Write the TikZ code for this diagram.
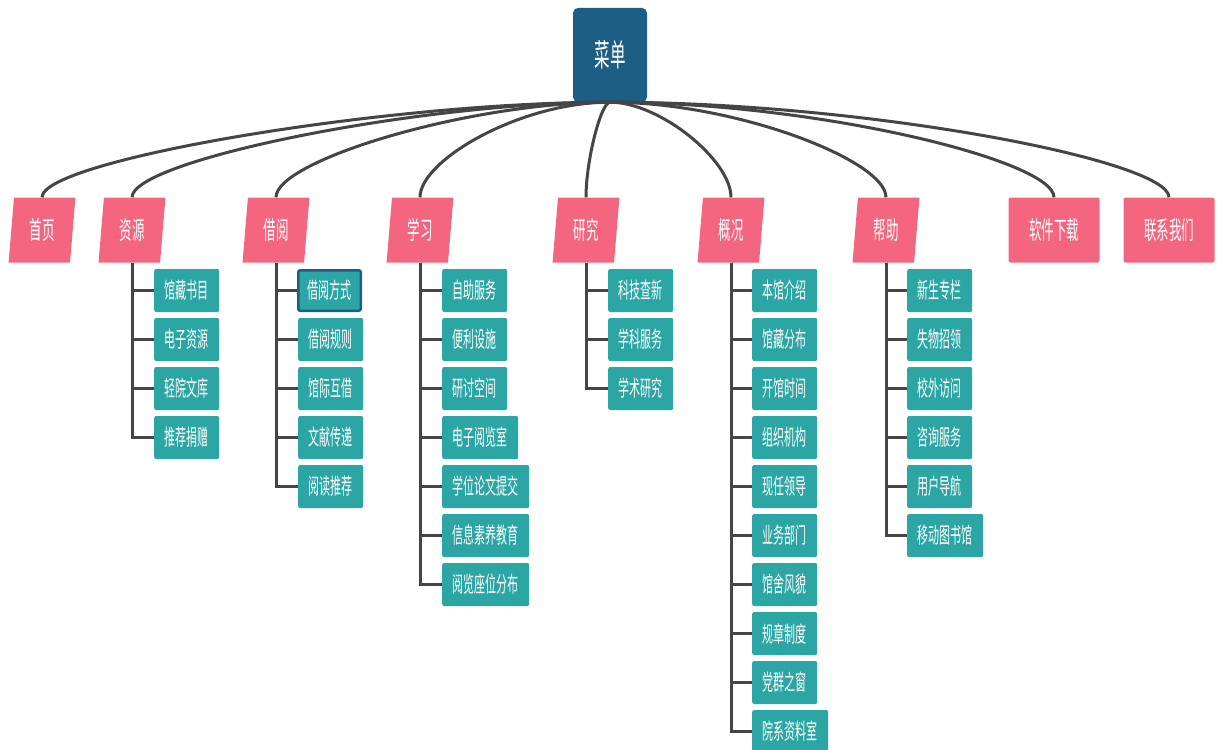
\documentclass[tikz,border=0pt]{standalone}
\usepackage{fontspec}
\newfontfamily\cjk[FakeStretch=0.5]{Noto Sans CJK SC}
\usetikzlibrary{shapes.geometric}
\definecolor{rootblue}{HTML}{1C5E84}
\definecolor{catpink}{HTML}{F4667F}
\definecolor{leafteal}{HTML}{2CA6A4}
\definecolor{linegray}{HTML}{454545}
\tikzset{
  rootbox/.style={rectangle, rounded corners=5pt, fill=rootblue, text=white,
    minimum width=74pt, minimum height=94pt, font=\cjk\fontsize{31}{31}\selectfont},
  catbox/.style={trapezium, trapezium left angle=84, trapezium right angle=96,
    trapezium stretches, fill=catpink, text=white, minimum width=67pt,
    minimum height=65pt, inner sep=0pt, font=\cjk\fontsize{25}{25}\selectfont},
  catflat/.style={rectangle, rounded corners=2pt, fill=catpink, text=white,
    minimum width=91pt, minimum height=65pt, font=\cjk\fontsize{25}{25}\selectfont},
  leaf/.style={rectangle, anchor=west, rounded corners=2pt, fill=leafteal, text=white,
    minimum width=65pt, minimum height=43pt, inner xsep=10.5pt,
    font=\cjk\fontsize{22}{22}\selectfont},
  link/.style={draw=linegray, line width=3pt},
  branch/.style={draw=linegray, line width=3pt},
}
\begin{document}
\begin{tikzpicture}[x=1pt,y=1pt,yscale=-1]
        \useasboundingbox (0,0) rectangle (1217,749);
        % Root
        \node[rootbox] (cd) at (610,55) {菜单};
        % Categories
        \node[catbox] (sy) at (42,230) {首页};
        \node[catbox] (zy) at (132,230) {资源};
        \node[catbox] (jy) at (276,230) {借阅};
        \node[catbox] (xx) at (420,230) {学习};
        \node[catbox] (yj) at (586,230) {研究};
        \node[catbox] (gk) at (731,230) {概况};
        \node[catbox] (bz) at (886,230) {帮助};
        \node[catflat] (rj) at (1054,230) {软件下载};
        \node[catflat] (lx) at (1169,230) {联系我们};
        % Curves from the root
        \foreach \c/\d in {sy/-225,zy/-190,jy/-140,xx/-90,yj/-9,gk/50,bz/125,rj/205,lx/255}
            \draw[link] (cd.south) .. controls +(\d,0) and +(0,-37) .. (\c.center |- \c.north);
        % Leaves: 资源
        \foreach \t [count=\i] in {馆藏书目,电子资源,轻院文库,推荐捐赠}
            \node[leaf] (zy\i) at (154,241.5+49*\i) {\t};
        \foreach \i in {1,...,4}
            \draw[branch] (zy.center |- zy.south) |- (zy\i.west);
        % Leaves: 借阅
        \node[leaf, draw=rootblue, line width=2.5pt, minimum width=62.5pt, minimum height=40.5pt,
            inner xsep=9.25pt] (jy1) at (297,290.5) {借阅方式};
        \foreach \t [count=\i from 2] in {借阅规则,馆际互借,文献传递,阅读推荐}
            \node[leaf] (jy\i) at (298,241.5+49*\i) {\t};
        \foreach \i in {1,...,5}
            \draw[branch] (jy.center |- jy.south) |- (jy\i.west);
        % Leaves: 学习
        \foreach \t [count=\i] in {自助服务,便利设施,研讨空间,电子阅览室,学位论文提交,信息素养教育,阅览座位分布}
            \node[leaf] (xx\i) at (442,241.5+49*\i) {\t};
        \foreach \i in {1,...,7}
            \draw[branch] (xx.center |- xx.south) |- (xx\i.west);
        % Leaves: 研究
        \foreach \t [count=\i] in {科技查新,学科服务,学术研究}
            \node[leaf] (yj\i) at (608,241.5+49*\i) {\t};
        \foreach \i in {1,...,3}
            \draw[branch] (yj.center |- yj.south) |- (yj\i.west);
        % Leaves: 概况
        \foreach \t [count=\i] in {本馆介绍,馆藏分布,开馆时间,组织机构,现任领导,业务部门,馆舍风貌,规章制度,党群之窗,院系资料室}
            \node[leaf] (gk\i) at (752,241.5+49*\i) {\t};
        \foreach \i in {1,...,10}
            \draw[branch] (gk.center |- gk.south) |- (gk\i.west);
        % Leaves: 帮助
        \foreach \t [count=\i] in {新生专栏,失物招领,校外访问,咨询服务,用户导航,移动图书馆}
            \node[leaf] (bz\i) at (907,241.5+49*\i) {\t};
        \foreach \i in {1,...,6}
            \draw[branch] (bz.center |- bz.south) |- (bz\i.west);
\end{tikzpicture}
\end{document}
